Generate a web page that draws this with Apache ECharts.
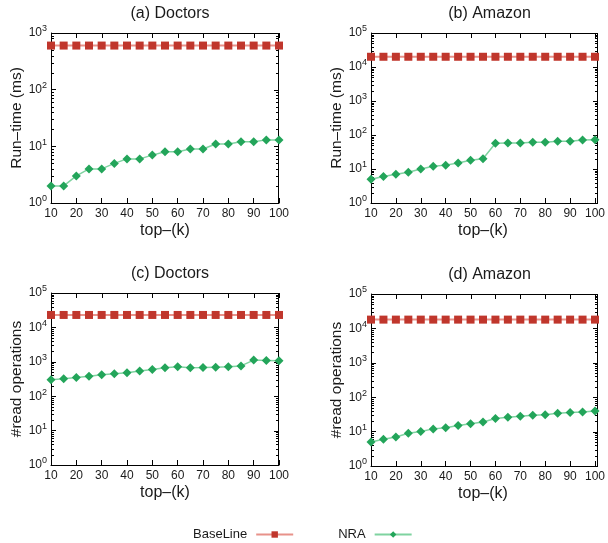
<!DOCTYPE html>
<html>
<head>
<meta charset="utf-8">
<script src="https://cdn.jsdelivr.net/npm/echarts@6/dist/echarts.min.js"></script>
<style>
  html, body { margin: 0; padding: 0; background: #fff; }
  #chart { width: 608px; height: 543px; }
</style>
</head>
<body>
<div id="chart"></div>
<script>
// top-k values on the x axis
const kValues = [10, 15, 20, 25, 30, 35, 40, 45, 50, 55, 60, 65, 70, 75, 80, 85, 90, 95, 100];
const xTicks = [10, 20, 30, 40, 50, 60, 70, 80, 90, 100];

// (a) Doctors run-time (ms)
const doctorsTimeBase = [600, 600, 600, 600, 600, 600, 600, 600, 600, 600, 600, 600, 600, 600, 600, 600, 600, 600, 600];
const doctorsTimeNra = [2, 2, 3, 4, 4, 5, 6, 6, 7, 8, 8, 9, 9, 11, 11, 12, 12, 13, 13];
// (b) Amazon run-time (ms)
const amazonTimeBase = [20000, 20000, 20000, 20000, 20000, 20000, 20000, 20000, 20000, 20000, 20000, 20000, 20000, 20000, 20000, 20000, 20000, 20000, 20000];
const amazonTimeNra = [5, 6, 7, 8, 10, 12, 13, 15, 18, 20, 57, 58, 58, 61, 61, 66, 66, 71, 73];
// (c) Doctors #read operations
const doctorsReadBase = [23000, 23000, 23000, 23000, 23000, 23000, 23000, 23000, 23000, 23000, 23000, 23000, 23000, 23000, 23000, 23000, 23000, 23000, 23000];
const doctorsReadNra = [300, 320, 350, 380, 420, 450, 480, 540, 600, 670, 720, 670, 680, 700, 720, 760, 1120, 1100, 1080];
// (d) Amazon #read operations
const amazonReadBase = [18000, 18000, 18000, 18000, 18000, 18000, 18000, 18000, 18000, 18000, 18000, 18000, 18000, 18000, 18000, 18000, 18000, 18000, 18000];
const amazonReadNra = [5, 6, 7, 9, 10, 12, 13, 15, 17, 19, 24, 26, 28, 30, 31, 34, 36, 37, 40];

const panels = [
  { title: "(a) Doctors", yName: "Run–time (ms)", yMax: 1000, base: doctorsTimeBase, nra: doctorsTimeNra,
    grid: { left: 51, top: 33, width: 228, height: 170 } },
  { title: "(b) Amazon", yName: "Run–time (ms)", yMax: 100000, base: amazonTimeBase, nra: amazonTimeNra,
    grid: { left: 371, top: 33, width: 227, height: 170 } },
  { title: "(c) Doctors", yName: "#read operations", yMax: 100000, base: doctorsReadBase, nra: doctorsReadNra,
    grid: { left: 51, top: 293, width: 228, height: 172 } },
  { title: "(d) Amazon", yName: "#read operations", yMax: 100000, base: amazonReadBase, nra: amazonReadNra,
    grid: { left: 371, top: 294, width: 227, height: 172 } },
];

const FONT = "Liberation Sans, Arial, sans-serif";
const TEXT = "#1a1a1a";

const chart = echarts.init(document.getElementById("chart"));

const toPairs = (ys) => kValues.map((k, i) => [k, ys[i]]);

const option = {
  animation: false,
  textStyle: { fontFamily: FONT },
  title: panels.map((p) => ({
    text: p.title,
    left: p.grid.left + p.grid.width / 2,
    top: p.grid.top - 32,
    textAlign: "center",
    textStyle: { fontSize: 16, fontWeight: "normal", color: TEXT, fontFamily: FONT },
  })),
  legend: {
    left: 193,
    top: 528,
    padding: 0,
    align: "right",
    itemGap: 44,
    itemWidth: 37,
    itemHeight: 8,
    textStyle: { fontSize: 13, color: TEXT, fontFamily: FONT, padding: [0, 4, 0, 0] },
    data: ["BaseLine", "NRA"],
  },
  grid: panels.map((p) => Object.assign({ containLabel: false }, p.grid)),
  xAxis: panels.map((p, i) => ({
    type: "value",
    gridIndex: i,
    min: 10,
    max: 100,
    interval: 10,
    name: "top–(k)",
    nameLocation: "middle",
    nameGap: 20,
    nameTextStyle: { fontSize: 16, color: TEXT, fontFamily: FONT },
    axisLine: { lineStyle: { color: "#000", width: 1 } },
    axisTick: { inside: true, length: 5, lineStyle: { color: "#000" } },
    axisLabel: { fontSize: 12, color: TEXT, margin: 5, fontFamily: FONT },
    splitLine: { show: false },
  })),
  yAxis: panels.map((p, i) => ({
    type: "log",
    logBase: 10,
    gridIndex: i,
    min: 1,
    max: p.yMax,
    name: p.yName,
    nameLocation: "middle",
    nameGap: i % 2 === 0 ? 26 : 24,
    nameTextStyle: { fontSize: 15.5, color: TEXT, fontFamily: FONT },
    axisLine: { show: true, lineStyle: { color: "#000", width: 1 } },
    axisTick: { inside: true, length: 5, lineStyle: { color: "#000" } },
    axisLabel: {
      margin: 4,
      formatter: (v) => "{b|10}{s|" + Math.round(Math.log10(v)) + "}",
      rich: {
        b: { fontSize: 12, color: TEXT, fontFamily: FONT },
        s: { fontSize: 9, color: TEXT, fontFamily: FONT, padding: [0, 0, 8, 0] },
      },
    },
    splitLine: { show: false },
  })),
  series: [],
};

panels.forEach((p, i) => {
  option.series.push({
    name: "BaseLine",
    type: "line",
    xAxisIndex: i,
    yAxisIndex: i,
    data: toPairs(p.base),
    symbol: "rect",
    symbolSize: 8,
    itemStyle: { color: "#c0362c" },
    lineStyle: { color: "#e8928a", width: 2 },
    z: 3,
  });
  option.series.push({
    name: "NRA",
    type: "line",
    xAxisIndex: i,
    yAxisIndex: i,
    data: toPairs(p.nra),
    symbol: "diamond",
    symbolSize: 9,
    itemStyle: { color: "#23a55a" },
    lineStyle: { color: "#7fd3a0", width: 1.5 },
    z: 4,
  });
});

chart.setOption(option);

// gnuplot-style mirrored ticks and log minor ticks, placed through the axes
const marks = [];
const tick = (x1, y1, x2, y2) =>
  marks.push({
    type: "line",
    silent: true,
    shape: { x1: x1, y1: y1, x2: x2, y2: y2 },
    style: { stroke: "#000", lineWidth: 1 },
  });

panels.forEach((p, i) => {
  const g = p.grid;
  const left = g.left, right = g.left + g.width, top = g.top, bottom = g.top + g.height;
  // frame top and right
  tick(left, top + 0.5, right, top + 0.5);
  tick(right - 0.5, top, right - 0.5, bottom);
  // top x ticks
  xTicks.forEach((k) => {
    const x = Math.round(chart.convertToPixel({ xAxisIndex: i }, k)) + 0.5;
    tick(x, top, x, top + 5);
  });
  // y ticks on the right, minor ticks on both sides
  const decades = Math.round(Math.log10(p.yMax));
  for (let d = 0; d <= decades; d++) {
    const y = Math.round(chart.convertToPixel({ yAxisIndex: i }, Math.pow(10, d))) + 0.5;
    tick(right - 5, y, right, y);
    if (d === decades) continue;
    for (let m = 2; m <= 9; m++) {
      const ym = Math.round(chart.convertToPixel({ yAxisIndex: i }, m * Math.pow(10, d))) + 0.5;
      tick(left, ym, left + 3, ym);
      tick(right - 3, ym, right, ym);
    }
  }
});

chart.setOption({ graphic: marks });
</script>
</body>
</html>
